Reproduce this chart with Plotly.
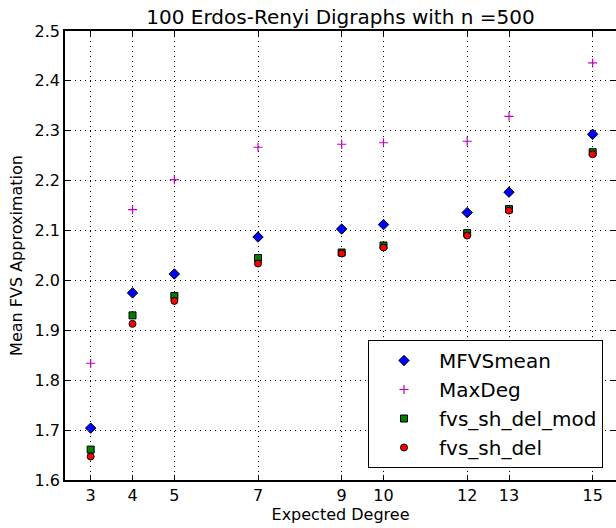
import plotly.graph_objects as go

degrees = [3, 4, 5, 7, 9, 10, 12, 13, 15]
mfvs_mean = [1.704, 1.975, 2.013, 2.087, 2.103, 2.112, 2.136, 2.177, 2.293]
max_deg = [1.834, 2.142, 2.202, 2.267, 2.273, 2.276, 2.279, 2.329, 2.436]
fvs_sh_del_mod = [1.661, 1.930, 1.969, 2.045, 2.056, 2.070, 2.095, 2.143, 2.257]
fvs_sh_del = [1.647, 1.913, 1.959, 2.034, 2.054, 2.066, 2.090, 2.140, 2.253]
y_ticks = [1.6, 1.7, 1.8, 1.9, 2.0, 2.1, 2.2, 2.3, 2.4, 2.5]

FONT = "DejaVu Sans"

fig = go.Figure()
fig.add_trace(go.Scatter(
    x=degrees, y=mfvs_mean, mode="markers", name="MFVSmean",
    marker=dict(symbol="diamond", size=8, color="#0000ff",
                line=dict(color="black", width=1))))
fig.add_trace(go.Scatter(
    x=degrees, y=max_deg, mode="markers", name="MaxDeg",
    marker=dict(symbol="cross-thin", size=6.5, color="#bf00bf",
                line=dict(color="#bf00bf", width=1.2))))
fig.add_trace(go.Scatter(
    x=degrees, y=fvs_sh_del_mod, mode="markers", name="fvs_sh_del_mod",
    marker=dict(symbol="square", size=7, color="#008000",
                line=dict(color="black", width=1))))
fig.add_trace(go.Scatter(
    x=degrees, y=fvs_sh_del, mode="markers", name="fvs_sh_del",
    marker=dict(symbol="circle", size=7, color="#ff0000",
                line=dict(color="black", width=1))))

fig.update_layout(
    width=616, height=528,
    margin=dict(l=65, r=0, t=31, b=48, autoexpand=False),
    paper_bgcolor="white", plot_bgcolor="white",
    font=dict(family=FONT, color="black", size=16),
    title=dict(text="100 Erdos-Renyi Digraphs with n =500",
               font=dict(family=FONT, size=20, color="black"),
               x=(65 + 616) / 2 / 616, xanchor="center",
               y=1 - 17 / 528, yanchor="middle"),
    showlegend=True,
    legend=dict(x=(368 - 65) / 551, xanchor="left",
                y=(480 - 340) / 449, yanchor="top",
                bgcolor="white", bordercolor="black", borderwidth=1,
                font=dict(family=FONT, size=20, color="black"),
                itemwidth=60, tracegroupgap=0),
)
fig.update_xaxes(
    range=[2.386, 15.558], tickmode="array", tickvals=degrees,
    ticktext=[str(d) for d in degrees],
    showgrid=True, gridcolor="black", griddash="1px,4px", gridwidth=1,
    zeroline=False, showline=True, linecolor="black", linewidth=1.5,
    mirror="allticks", ticks="inside", ticklen=5, tickcolor="black",
    tickfont=dict(family=FONT, size=16, color="black"),
    title=dict(text="Expected Degree", font=dict(family=FONT, size=16, color="black"),
               standoff=5),
    automargin=False,
)
fig.update_yaxes(
    range=[1.6, 2.5], tickmode="array", tickvals=y_ticks,
    ticktext=[f"{v:.1f}" for v in y_ticks],
    showgrid=True, gridcolor="black", griddash="1px,4px", gridwidth=1,
    zeroline=False, showline=True, linecolor="black", linewidth=1.5,
    mirror="allticks", ticks="inside", ticklen=5, tickcolor="black",
    tickfont=dict(family=FONT, size=16, color="black"),
    title=dict(text="Mean FVS Approximation", font=dict(family=FONT, size=16, color="black"),
               standoff=8),
    automargin=False,
)

fig.write_html("out.html")
